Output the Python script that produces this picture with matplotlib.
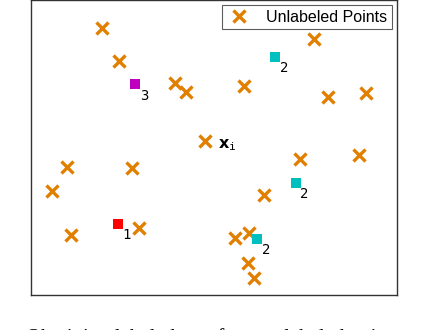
import matplotlib
matplotlib.use('Agg')
import matplotlib.pyplot as plt

# unlabeled points (x, y)
unl_x = [1.93, 2.40, 3.94, 4.22, 4.76, 7.74, 5.82, 8.11, 9.15, 7.35, 8.97,
         0.99, 2.76, 0.58, 1.10, 2.96, 6.36, 5.57, 5.95, 5.93, 6.10]
unl_y = [7.25, 6.34, 5.75, 5.50, 4.17, 6.93, 5.67, 5.36, 5.48, 3.69, 3.80,
         3.48, 3.45, 2.83, 1.62, 1.81, 2.72, 1.55, 1.67, 0.87, 0.47]

# labeled points
lab_x = [2.85, 6.67, 7.23, 6.18, 2.38]
lab_y = [5.71, 6.46, 3.05, 1.53, 1.92]
lab_class = ['3', '2', '2', '2', '1']
class_colors = {'1': '#ff0000', '2': '#00bfbf', '3': '#bf00bf'}

xi_index = 4  # the unlabeled point marked x_i

fig = plt.figure(figsize=(4.26, 3.30), dpi=100)
ax = fig.add_axes([0.073, 0.106, 0.859, 0.894])

ax.plot(unl_x, unl_y, 'x', color='#e07f00', markersize=8.5, markeredgewidth=2.4,
        linestyle='none', label='Unlabeled Points')

for x, y, c in zip(lab_x, lab_y, lab_class):
    ax.plot(x, y, 's', color=class_colors[c], markersize=7, markeredgewidth=0)
    ax.annotate(c, (x, y), xytext=(6.2, -8), textcoords='offset points',
                ha='center', va='center', fontsize=10, family='DejaVu Sans Mono')

ax.annotate(r'$\mathbf{x}_{\mathtt{i}}$', (unl_x[xi_index], unl_y[xi_index]),
            xytext=(9, -3), textcoords='offset points', ha='left', va='center',
            fontsize=11.5)

ax.set_xlim(0, 10)
ax.set_ylim(0, 8)
ax.set_xticks([])
ax.set_yticks([])
for s in ax.spines.values():
    s.set_color('#333333')
    s.set_linewidth(1)

leg = ax.legend(loc='upper right', frameon=True, fancybox=False,
                borderaxespad=0.3, handletextpad=0.9, borderpad=0.3,
                handlelength=1.6,
                prop={'family': 'Liberation Sans', 'size': 11.5})
leg.get_frame().set_edgecolor('#333333')
leg.get_frame().set_linewidth(0.8)

# caption of the source figure, only its top edge shows
fig.text(0.5, 0.006, 'Obtaining labeled sets from unlabeled points',
         ha='center', va='top', fontsize=15, family='Liberation Serif')

fig.savefig('out.png', dpi=100)
